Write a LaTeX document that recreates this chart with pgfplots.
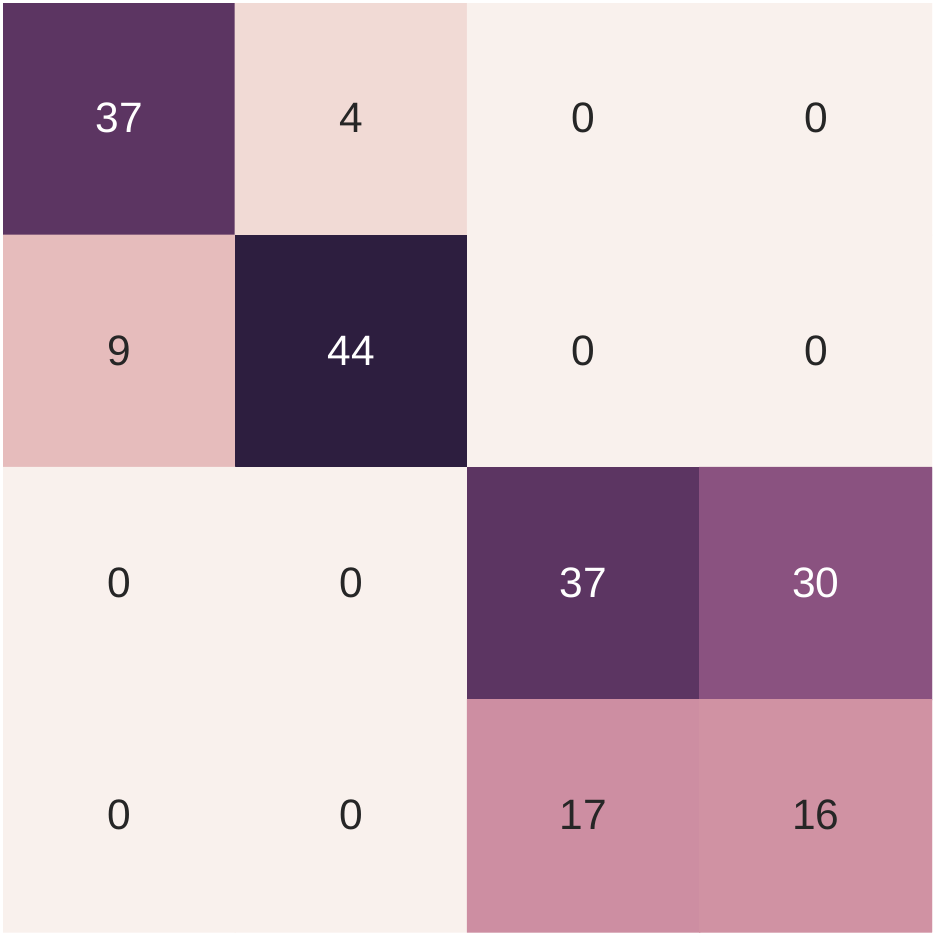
\documentclass[border=0pt]{standalone}
\usepackage{pgfplots}
\pgfplotsset{compat=1.18}
\usepackage{fontspec}
\setmainfont{Liberation Sans}
\definecolor{darktext}{RGB}{38,38,38}
\pgfplotsset{
  colormap={heat}{
    rgb255(0cm)=(249,241,237);
    rgb255(4cm)=(241,218,213);
    rgb255(9cm)=(230,188,188);
    rgb255(16cm)=(208,146,163);
    rgb255(17cm)=(205,142,162);
    rgb255(30cm)=(138,82,128);
    rgb255(37cm)=(92,53,98);
    rgb255(44cm)=(45,30,63)
  }
}
\begin{document}
\begin{tikzpicture}
\path[use as bounding box] (-0.9bp,-0bp) rectangle (279.3bp,279.6bp);
\begin{axis}[
  at={(0,0)}, anchor=south west,
  scale only axis, width=278.7bp, height=278.7bp,
  hide axis,
  xmin=-0.5, xmax=3.5, ymin=-0.5, ymax=3.5,
  y dir=reverse,
  colormap name=heat,
  point meta min=0, point meta max=44,
  enlargelimits=false,
]
\addplot[matrix plot*, mesh/cols=4, point meta=explicit, draw=none] table[meta=c] {
x y c
0 0 37
1 0 4
2 0 0
3 0 0
0 1 9
1 1 44
2 1 0
3 1 0
0 2 0
1 2 0
2 2 37
3 2 30
0 3 0
1 3 0
2 3 17
3 3 16
};
\addplot[only marks, mark=none, point meta=explicit symbolic, nodes near coords,
  nodes near coords align=center, every node near coord/.style={font=\fontsize{12.8}{15}\selectfont, text=white, anchor=center, yshift=0.3bp}]
  table[meta=c] {
x y c
0 0 37
1 1 44
2 2 37
3 2 30
};
\addplot[only marks, mark=none, point meta=explicit symbolic, nodes near coords,
  nodes near coords align=center, every node near coord/.style={font=\fontsize{12.8}{15}\selectfont, text=darktext, anchor=center, yshift=0.3bp}]
  table[meta=c] {
x y c
1 0 4
2 0 0
3 0 0
0 1 9
2 1 0
3 1 0
0 2 0
1 2 0
0 3 0
1 3 0
2 3 17
3 3 16
};
\end{axis}
\end{tikzpicture}
\end{document}
